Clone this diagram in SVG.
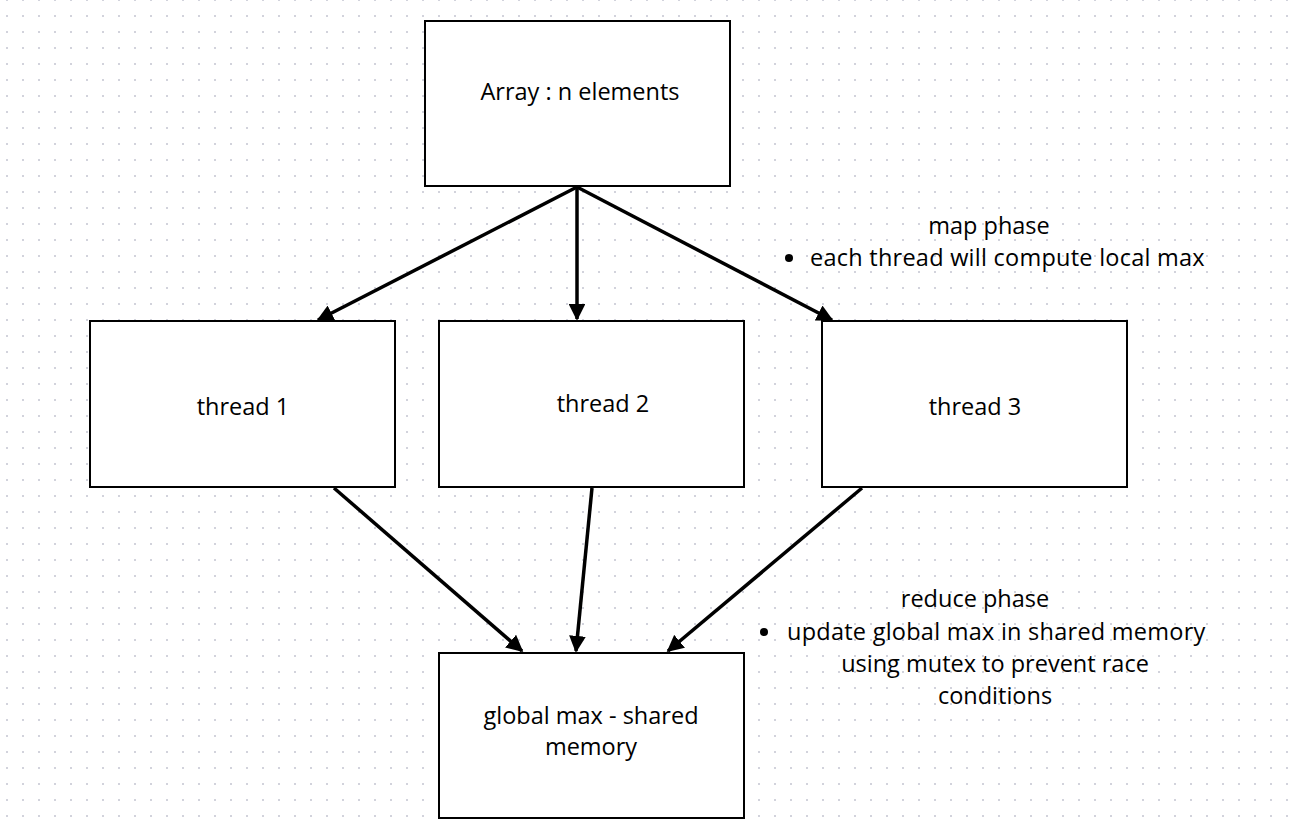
<svg xmlns="http://www.w3.org/2000/svg" width="1294" height="827" viewBox="0 0 1294 827">
<defs>
<pattern id="dots" x="6" y="-1" width="16" height="16" patternUnits="userSpaceOnUse">
<rect x="0" y="0" width="2" height="2" fill="#d2d3dc"/>
</pattern>
<marker id="ah" viewBox="0 0 10 10" refX="9" refY="5" markerWidth="4.8" markerHeight="4.8" orient="auto" markerUnits="strokeWidth">
<path d="M0,0 L10,5 L0,10 z" fill="#000"/>
</marker>
<style>
.box{fill:#fff;stroke:#000;stroke-width:2}
.t{font-family:"Open Sans","Noto Sans",sans-serif;font-size:23.5px;fill:#000;text-anchor:middle}
.tl{font-family:"Open Sans","Noto Sans",sans-serif;font-size:23.5px;fill:#000;letter-spacing:0.25px}
.c{stroke:#000;stroke-width:3.5;fill:none;marker-end:url(#ah)}
</style>
</defs>
<rect width="1294" height="827" fill="#fff"/>
<rect width="1294" height="827" fill="url(#dots)"/>
<g id="connectors">
<line class="c" x1="577" y1="187" x2="318" y2="320"/>
<line class="c" x1="577" y1="187" x2="577" y2="319"/>
<line class="c" x1="577" y1="187" x2="832" y2="320"/>
<line class="c" x1="334" y1="488" x2="522" y2="651"/>
<line class="c" x1="592" y1="488" x2="576" y2="651"/>
<line class="c" x1="862" y1="488" x2="668" y2="651"/>
</g>
<g id="array"><rect class="box" x="425" y="21" width="305" height="165"/><text class="t" x="580" y="100">Array : n elements</text></g>
<g id="thread1"><rect class="box" x="90" y="321" width="305" height="166"/><text class="t" x="243" y="415">thread 1</text></g>
<g id="thread2"><rect class="box" x="439" y="321" width="305" height="166"/><text class="t" x="603" y="412">thread 2</text></g>
<g id="thread3"><rect class="box" x="822" y="321" width="305" height="166"/><text class="t" x="975" y="415">thread 3</text></g>
<g id="global"><rect class="box" x="439" y="653" width="305" height="165"/><text class="t" x="591" y="724">global max - shared</text><text class="t" x="591" y="755">memory</text></g>
<g id="map-note">
<text class="t" x="989" y="234">map phase</text>
<circle cx="789" cy="258" r="4" fill="#000"/>
<text class="tl" x="810" y="266">each thread will compute local max</text>
</g>
<g id="reduce-note">
<text class="t" x="975" y="607">reduce phase</text>
<circle cx="764" cy="632" r="4" fill="#000"/>
<text class="tl" x="787" y="640">update global max in shared memory</text>
<text class="t" x="995" y="672">using mutex to prevent race</text>
<text class="t" x="995" y="704">conditions</text>
</g>
</svg>
